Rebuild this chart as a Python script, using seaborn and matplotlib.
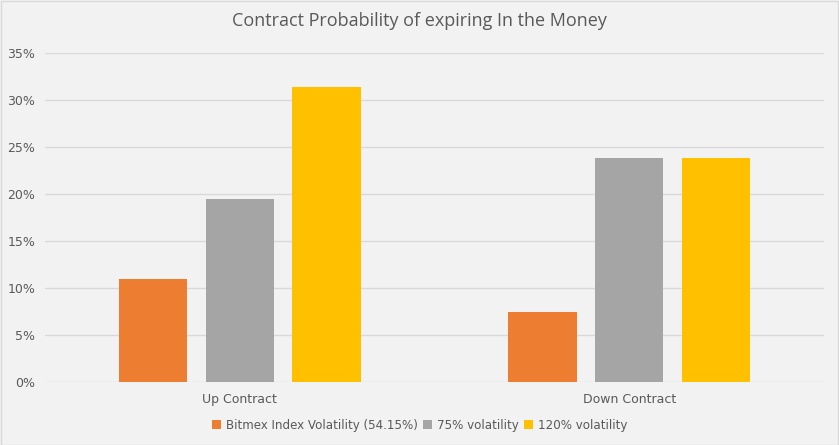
import matplotlib
matplotlib.use("Agg")
import matplotlib.pyplot as plt
from matplotlib.patches import Rectangle
from matplotlib.ticker import PercentFormatter
import pandas as pd
import seaborn as sns

contracts = ["Up Contract", "Down Contract"]
series = ["Bitmex Index Volatility (54.15%)", "75% volatility", "120% volatility"]
bitmex_vals = [0.1096, 0.0745]
vol75_vals = [0.1947, 0.2380]
vol120_vals = [0.3138, 0.2380]
colors = ["#ED7D31", "#A5A5A5", "#FFC000"]

rows = []
for name, vals in zip(series, [bitmex_vals, vol75_vals, vol120_vals]):
    for c, v in zip(contracts, vals):
        rows.append({"contract": c, "series": name, "value": v})
df = pd.DataFrame(rows)

sns.set_style("white")
plt.rcParams["font.family"] = ["DejaVu Sans"]

fig = plt.figure(figsize=(8.39, 4.45), dpi=100, facecolor="#F2F2F2")
ax = fig.add_axes([45 / 839, 1 - 382 / 445, 779 / 839, 329 / 445])
ax.set_facecolor("#F2F2F2")

sns.barplot(data=df, x="contract", y="value", hue="series", order=contracts,
            hue_order=series, palette=colors, width=0.668, gap=0.214,
            saturation=1, linewidth=0, ax=ax, legend=True)

ax.set_ylim(0, 0.35)
ax.set_yticks([i * 0.05 for i in range(8)])
ax.yaxis.set_major_formatter(PercentFormatter(1.0, decimals=0))
ax.grid(axis="y", color="#D9D9D9", linewidth=1)
ax.set_axisbelow(True)
for s in ax.spines.values():
    s.set_visible(False)
ax.tick_params(axis="both", length=0, labelsize=9, labelcolor="#595959")
ax.tick_params(axis="y", pad=7)
ax.tick_params(axis="x", pad=8)
ax.set_xlabel("")
ax.set_ylabel("")

# legend is centred on the figure, not the plot area
leg = ax.legend(loc="center", bbox_to_anchor=(0.5, 1 - 425 / 445),
                bbox_transform=fig.transFigure, ncol=3, frameon=False,
                fontsize=8.6, labelcolor="#595959", handlelength=0.8, handleheight=0.8,
                handletextpad=0.4, columnspacing=0.4, borderaxespad=0)
for h in leg.legend_handles:
    h.set_linewidth(0)

fig.suptitle("Contract Probability of expiring In the Money", y=1 - 21 / 445,
             va="center", fontsize=13, color="#595959", family="Open Sans")

fig.patches.append(Rectangle((0.5 / 839, 0.5 / 445), 1 - 1.5 / 839, 1 - 1.5 / 445,
                             transform=fig.transFigure, fill=False,
                             edgecolor="#D9D9D9", linewidth=1))

fig.savefig("out.png", dpi=100, facecolor=fig.get_facecolor())
